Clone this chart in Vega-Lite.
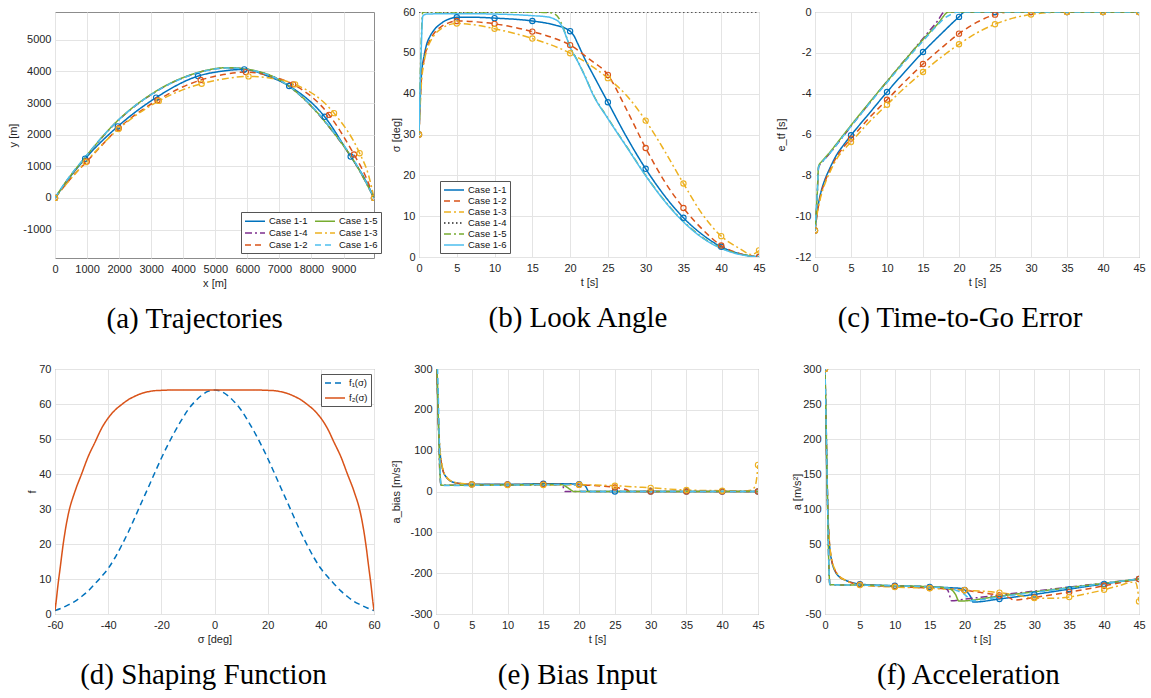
{
"$schema": "https://vega.github.io/schema/vega-lite/v6.json",
"background": "white",
"padding": {"left": 7, "top": 5, "right": 2, "bottom": 2},
"config": {
  "view": {"stroke": "#8c8c8c", "strokeWidth": 1},
  "axis": {"labelFont": "Liberation Sans", "labelFontSize": 11, "labelColor": "#262626", "titleFont": "Liberation Sans", "titleFontSize": 11, "titleFontWeight": "normal", "titleColor": "#262626", "grid": true, "gridColor": "#e4e4e4", "domain": false, "ticks": false, "labelOverlap": false, "labelFlush": false, "labelBound": false},
  "axisX": {"labelPadding": 5, "titlePadding": 3},
  "axisY": {"labelPadding": 4},
  "title": {"font": "Liberation Serif", "fontSize": 29, "fontWeight": "normal", "color": "#000000", "orient": "bottom", "offset": 17, "frame": "bounds", "anchor": "middle"},
  "legend": {"labelFont": "Liberation Sans", "labelFontSize": 9.5, "labelColor": "#111111", "strokeColor": "#555555", "fillColor": "#ffffff", "padding": 3, "rowPadding": 1, "symbolSize": 100, "symbolStrokeWidth": 1.5, "labelOffset": 13, "cornerRadius": 0}
},
"datasets": {
 "traj": [
  {"c":"Case 1-1","t":0,"x":0,"y":0},{"c":"Case 1-1","t":2.5,"x":460,"y":650},{"c":"Case 1-1","t":5,"x":940,"y":1240},{"c":"Case 1-1","t":10,"x":1960,"y":2262},{"c":"Case 1-1","t":15,"x":3154,"y":3173},{"c":"Case 1-1","t":20,"x":4461,"y":3853},{"c":"Case 1-1","t":22.5,"x":5180,"y":4005},{"c":"Case 1-1","t":25,"x":5903,"y":4063},{"c":"Case 1-1","t":27.5,"x":6620,"y":3860},{"c":"Case 1-1","t":30,"x":7303,"y":3539},{"c":"Case 1-1","t":35,"x":8413,"y":2565},{"c":"Case 1-1","t":40,"x":9222,"y":1309},{"c":"Case 1-1","t":42.5,"x":9620,"y":680},{"c":"Case 1-1","t":45,"x":9950,"y":0},
  {"c":"Case 1-2","t":0,"x":0,"y":0},{"c":"Case 1-2","t":2.5,"x":480,"y":600},{"c":"Case 1-2","t":5,"x":990,"y":1150},{"c":"Case 1-2","t":10,"x":1992,"y":2209},{"c":"Case 1-2","t":15,"x":3195,"y":3089},{"c":"Case 1-2","t":20,"x":4544,"y":3728},{"c":"Case 1-2","t":22.5,"x":5250,"y":3900},{"c":"Case 1-2","t":25,"x":5954,"y":3979},{"c":"Case 1-2","t":27.5,"x":6700,"y":3860},{"c":"Case 1-2","t":30,"x":7427,"y":3592},{"c":"Case 1-2","t":35,"x":8548,"y":2628},{"c":"Case 1-2","t":40,"x":9326,"y":1372},{"c":"Case 1-2","t":42.5,"x":9680,"y":700},{"c":"Case 1-2","t":45,"x":9950,"y":0},
  {"c":"Case 1-3","t":0,"x":0,"y":0},{"c":"Case 1-3","t":2.5,"x":470,"y":580},{"c":"Case 1-3","t":5,"x":954,"y":1131},{"c":"Case 1-3","t":10,"x":1981,"y":2178},{"c":"Case 1-3","t":15,"x":3237,"y":3068},{"c":"Case 1-3","t":20,"x":4575,"y":3613},{"c":"Case 1-3","t":22.5,"x":5300,"y":3770},{"c":"Case 1-3","t":25,"x":6037,"y":3843},{"c":"Case 1-3","t":27.5,"x":6780,"y":3780},{"c":"Case 1-3","t":30,"x":7490,"y":3592},{"c":"Case 1-3","t":35,"x":8703,"y":2681},{"c":"Case 1-3","t":40,"x":9502,"y":1414},{"c":"Case 1-3","t":42.5,"x":9780,"y":720},{"c":"Case 1-3","t":45,"x":9950,"y":0},
  {"c":"Case 1-4","x":0,"y":0},{"c":"Case 1-4","x":300,"y":440},{"c":"Case 1-4","x":955,"y":1290},{"c":"Case 1-4","x":1911,"y":2390},{"c":"Case 1-4","x":3050,"y":3300},{"c":"Case 1-4","x":4295,"y":3910},{"c":"Case 1-4","x":5400,"y":4115},{"c":"Case 1-4","x":6577,"y":3925},{"c":"Case 1-4","x":7614,"y":3270},{"c":"Case 1-4","x":8651,"y":2115},{"c":"Case 1-4","x":9378,"y":1070},{"c":"Case 1-4","x":9950,"y":0},
  {"c":"Case 1-5","x":0,"y":0},{"c":"Case 1-5","x":300,"y":450},{"c":"Case 1-5","x":955,"y":1300},{"c":"Case 1-5","x":1911,"y":2400},{"c":"Case 1-5","x":3050,"y":3310},{"c":"Case 1-5","x":4295,"y":3915},{"c":"Case 1-5","x":5400,"y":4120},{"c":"Case 1-5","x":6577,"y":3930},{"c":"Case 1-5","x":7614,"y":3275},{"c":"Case 1-5","x":8651,"y":2120},{"c":"Case 1-5","x":9378,"y":1075},{"c":"Case 1-5","x":9950,"y":0},
  {"c":"Case 1-6","x":0,"y":0},{"c":"Case 1-6","x":300,"y":460},{"c":"Case 1-6","x":955,"y":1310},{"c":"Case 1-6","x":1911,"y":2400},{"c":"Case 1-6","x":3050,"y":3300},{"c":"Case 1-6","x":4295,"y":3905},{"c":"Case 1-6","x":5400,"y":4110},{"c":"Case 1-6","x":6577,"y":3920},{"c":"Case 1-6","x":7614,"y":3285},{"c":"Case 1-6","x":8651,"y":2140},{"c":"Case 1-6","x":9378,"y":1100},{"c":"Case 1-6","x":9950,"y":0}
 ],
 "look": [
  {"c":"Case 1-1","t":0,"v":30},{"c":"Case 1-1","t":0.3,"v":44},{"c":"Case 1-1","t":0.7,"v":49.5},{"c":"Case 1-1","t":1,"v":52},{"c":"Case 1-1","t":1.5,"v":54.2},{"c":"Case 1-1","t":2,"v":55.6},{"c":"Case 1-1","t":3,"v":57.3},{"c":"Case 1-1","t":4,"v":58.3},{"c":"Case 1-1","t":5,"v":58.7},{"c":"Case 1-1","t":7.5,"v":58.7},{"c":"Case 1-1","t":10,"v":58.5},{"c":"Case 1-1","t":15,"v":57.8},{"c":"Case 1-1","t":18,"v":56.8},{"c":"Case 1-1","t":19.5,"v":55.9},{"c":"Case 1-1","t":20,"v":55.3},{"c":"Case 1-1","t":20.5,"v":54.2},{"c":"Case 1-1","t":21,"v":52.3},{"c":"Case 1-1","t":22,"v":48.3},{"c":"Case 1-1","t":23,"v":44.8},{"c":"Case 1-1","t":25,"v":37.9},{"c":"Case 1-1","t":27.5,"v":29.3},{"c":"Case 1-1","t":30,"v":21.6},{"c":"Case 1-1","t":32.5,"v":15},{"c":"Case 1-1","t":35,"v":9.6},{"c":"Case 1-1","t":37.5,"v":5.5},{"c":"Case 1-1","t":40,"v":2.5},{"c":"Case 1-1","t":42.5,"v":0.8},{"c":"Case 1-1","t":45,"v":0},
  {"c":"Case 1-2","t":0,"v":30},{"c":"Case 1-2","t":0.3,"v":43},{"c":"Case 1-2","t":0.7,"v":48.5},{"c":"Case 1-2","t":1,"v":51},{"c":"Case 1-2","t":1.5,"v":53.3},{"c":"Case 1-2","t":2,"v":54.8},{"c":"Case 1-2","t":3,"v":56.5},{"c":"Case 1-2","t":4,"v":57.4},{"c":"Case 1-2","t":5,"v":57.8},{"c":"Case 1-2","t":7.5,"v":57.6},{"c":"Case 1-2","t":10,"v":57.1},{"c":"Case 1-2","t":15,"v":55.2},{"c":"Case 1-2","t":18,"v":53.5},{"c":"Case 1-2","t":20,"v":51.9},{"c":"Case 1-2","t":22.5,"v":48.5},{"c":"Case 1-2","t":25,"v":44.6},{"c":"Case 1-2","t":27.5,"v":36},{"c":"Case 1-2","t":30,"v":26.7},{"c":"Case 1-2","t":32.5,"v":18.5},{"c":"Case 1-2","t":35,"v":12},{"c":"Case 1-2","t":37.5,"v":6.8},{"c":"Case 1-2","t":40,"v":2.8},{"c":"Case 1-2","t":42.5,"v":0.8},{"c":"Case 1-2","t":45,"v":0},
  {"c":"Case 1-3","t":0,"v":30},{"c":"Case 1-3","t":0.3,"v":42},{"c":"Case 1-3","t":0.7,"v":48},{"c":"Case 1-3","t":1,"v":50.5},{"c":"Case 1-3","t":1.5,"v":52.8},{"c":"Case 1-3","t":2,"v":54.3},{"c":"Case 1-3","t":3,"v":56},{"c":"Case 1-3","t":4,"v":56.9},{"c":"Case 1-3","t":5,"v":57.2},{"c":"Case 1-3","t":7.5,"v":56.8},{"c":"Case 1-3","t":10,"v":55.9},{"c":"Case 1-3","t":15,"v":53.5},{"c":"Case 1-3","t":20,"v":49.9},{"c":"Case 1-3","t":22.5,"v":47.2},{"c":"Case 1-3","t":25,"v":43.8},{"c":"Case 1-3","t":27.5,"v":39.5},{"c":"Case 1-3","t":30,"v":33.4},{"c":"Case 1-3","t":32.5,"v":26},{"c":"Case 1-3","t":35,"v":18},{"c":"Case 1-3","t":37.5,"v":10.5},{"c":"Case 1-3","t":40,"v":5.1},{"c":"Case 1-3","t":42.5,"v":2},{"c":"Case 1-3","t":44,"v":0.6},{"c":"Case 1-3","t":45,"v":1.6},
  {"c":"Case 1-4","t":0,"v":60},{"c":"Case 1-4","t":45,"v":60},
  {"c":"Case 1-5","t":0,"v":30},{"c":"Case 1-5","t":0.25,"v":50},{"c":"Case 1-5","t":0.5,"v":60},{"c":"Case 1-5","t":5,"v":60},{"c":"Case 1-5","t":10,"v":60},{"c":"Case 1-5","t":15,"v":60},{"c":"Case 1-5","t":17.5,"v":59.8},{"c":"Case 1-5","t":18,"v":59.5},{"c":"Case 1-5","t":18.5,"v":58.5},{"c":"Case 1-5","t":19,"v":56.5},{"c":"Case 1-5","t":19.5,"v":54},{"c":"Case 1-5","t":20,"v":51.5},{"c":"Case 1-5","t":21,"v":48},{"c":"Case 1-5","t":22,"v":44.2},{"c":"Case 1-5","t":23,"v":40},{"c":"Case 1-5","t":25,"v":34},{"c":"Case 1-5","t":27.5,"v":27},{"c":"Case 1-5","t":30,"v":20},{"c":"Case 1-5","t":32.5,"v":13.8},{"c":"Case 1-5","t":35,"v":8.7},{"c":"Case 1-5","t":37.5,"v":4.8},{"c":"Case 1-5","t":40,"v":2.2},{"c":"Case 1-5","t":42.5,"v":0.7},{"c":"Case 1-5","t":45,"v":0},
  {"c":"Case 1-6","t":0,"v":30},{"c":"Case 1-6","t":0.25,"v":48},{"c":"Case 1-6","t":0.5,"v":59},{"c":"Case 1-6","t":1,"v":59.5},{"c":"Case 1-6","t":5,"v":59.6},{"c":"Case 1-6","t":10,"v":59.5},{"c":"Case 1-6","t":15,"v":59.1},{"c":"Case 1-6","t":17,"v":58.8},{"c":"Case 1-6","t":18,"v":58.2},{"c":"Case 1-6","t":18.5,"v":57.6},{"c":"Case 1-6","t":19,"v":56.2},{"c":"Case 1-6","t":19.5,"v":53.9},{"c":"Case 1-6","t":20,"v":51.4},{"c":"Case 1-6","t":21,"v":47.9},{"c":"Case 1-6","t":22,"v":44.1},{"c":"Case 1-6","t":23,"v":39.9},{"c":"Case 1-6","t":25,"v":33.9},{"c":"Case 1-6","t":27.5,"v":26.9},{"c":"Case 1-6","t":30,"v":19.9},{"c":"Case 1-6","t":32.5,"v":13.7},{"c":"Case 1-6","t":35,"v":8.6},{"c":"Case 1-6","t":37.5,"v":4.7},{"c":"Case 1-6","t":40,"v":2.1},{"c":"Case 1-6","t":42.5,"v":0.6},{"c":"Case 1-6","t":45,"v":0}
 ],
 "err": [
  {"c":"Case 1-1","t":0,"v":-10.7},{"c":"Case 1-1","t":0.3,"v":-9.8},{"c":"Case 1-1","t":0.7,"v":-9},{"c":"Case 1-1","t":1,"v":-8.6},{"c":"Case 1-1","t":1.5,"v":-8.1},{"c":"Case 1-1","t":2,"v":-7.7},{"c":"Case 1-1","t":3,"v":-7},{"c":"Case 1-1","t":4,"v":-6.5},{"c":"Case 1-1","t":5,"v":-6.04},{"c":"Case 1-1","t":7.5,"v":-4.98},{"c":"Case 1-1","t":10,"v":-3.92},{"c":"Case 1-1","t":12.5,"v":-2.92},{"c":"Case 1-1","t":15,"v":-1.96},{"c":"Case 1-1","t":17.5,"v":-1.08},{"c":"Case 1-1","t":20,"v":-0.24},{"c":"Case 1-1","t":20.8,"v":0},{"c":"Case 1-1","t":25,"v":0},{"c":"Case 1-1","t":30,"v":0},{"c":"Case 1-1","t":35,"v":0},{"c":"Case 1-1","t":40,"v":0},{"c":"Case 1-1","t":45,"v":0},
  {"c":"Case 1-2","t":0,"v":-10.7},{"c":"Case 1-2","t":0.3,"v":-9.9},{"c":"Case 1-2","t":0.7,"v":-9.1},{"c":"Case 1-2","t":1,"v":-8.7},{"c":"Case 1-2","t":1.5,"v":-8.2},{"c":"Case 1-2","t":2,"v":-7.8},{"c":"Case 1-2","t":3,"v":-7.1},{"c":"Case 1-2","t":4,"v":-6.6},{"c":"Case 1-2","t":5,"v":-6.2},{"c":"Case 1-2","t":7.5,"v":-5.2},{"c":"Case 1-2","t":10,"v":-4.3},{"c":"Case 1-2","t":12.5,"v":-3.4},{"c":"Case 1-2","t":15,"v":-2.55},{"c":"Case 1-2","t":17.5,"v":-1.78},{"c":"Case 1-2","t":20,"v":-1.06},{"c":"Case 1-2","t":22.5,"v":-0.5},{"c":"Case 1-2","t":25,"v":-0.13},{"c":"Case 1-2","t":27,"v":0},{"c":"Case 1-2","t":30,"v":0},{"c":"Case 1-2","t":35,"v":0},{"c":"Case 1-2","t":40,"v":0},{"c":"Case 1-2","t":45,"v":0},
  {"c":"Case 1-3","t":0,"v":-10.7},{"c":"Case 1-3","t":0.3,"v":-9.9},{"c":"Case 1-3","t":0.7,"v":-9.2},{"c":"Case 1-3","t":1,"v":-8.8},{"c":"Case 1-3","t":1.5,"v":-8.3},{"c":"Case 1-3","t":2,"v":-7.9},{"c":"Case 1-3","t":3,"v":-7.2},{"c":"Case 1-3","t":4,"v":-6.75},{"c":"Case 1-3","t":5,"v":-6.37},{"c":"Case 1-3","t":7.5,"v":-5.4},{"c":"Case 1-3","t":10,"v":-4.54},{"c":"Case 1-3","t":12.5,"v":-3.7},{"c":"Case 1-3","t":15,"v":-2.94},{"c":"Case 1-3","t":17.5,"v":-2.22},{"c":"Case 1-3","t":20,"v":-1.58},{"c":"Case 1-3","t":22.5,"v":-1.02},{"c":"Case 1-3","t":25,"v":-0.6},{"c":"Case 1-3","t":27.5,"v":-0.3},{"c":"Case 1-3","t":30,"v":-0.12},{"c":"Case 1-3","t":32.5,"v":-0.03},{"c":"Case 1-3","t":35,"v":0},{"c":"Case 1-3","t":40,"v":0},{"c":"Case 1-3","t":45,"v":0},
  {"c":"Case 1-4","t":0,"v":-10.7},{"c":"Case 1-4","t":0.3,"v":-9},{"c":"Case 1-4","t":0.5,"v":-7.6},{"c":"Case 1-4","t":1,"v":-7.35},{"c":"Case 1-4","t":2,"v":-6.95},{"c":"Case 1-4","t":3,"v":-6.5},{"c":"Case 1-4","t":5,"v":-5.6},{"c":"Case 1-4","t":10,"v":-3.4},{"c":"Case 1-4","t":15,"v":-1.3},{"c":"Case 1-4","t":17,"v":-0.45},{"c":"Case 1-4","t":18,"v":0},{"c":"Case 1-4","t":45,"v":0},
  {"c":"Case 1-5","t":0,"v":-10.7},{"c":"Case 1-5","t":0.3,"v":-9},{"c":"Case 1-5","t":0.5,"v":-7.55},{"c":"Case 1-5","t":1,"v":-7.3},{"c":"Case 1-5","t":2,"v":-6.9},{"c":"Case 1-5","t":3,"v":-6.45},{"c":"Case 1-5","t":5,"v":-5.55},{"c":"Case 1-5","t":10,"v":-3.4},{"c":"Case 1-5","t":15,"v":-1.35},{"c":"Case 1-5","t":17,"v":-0.6},{"c":"Case 1-5","t":18.6,"v":0},{"c":"Case 1-5","t":45,"v":0},
  {"c":"Case 1-6","t":0,"v":-10.7},{"c":"Case 1-6","t":0.3,"v":-9},{"c":"Case 1-6","t":0.5,"v":-7.6},{"c":"Case 1-6","t":1,"v":-7.35},{"c":"Case 1-6","t":2,"v":-6.95},{"c":"Case 1-6","t":3,"v":-6.5},{"c":"Case 1-6","t":5,"v":-5.6},{"c":"Case 1-6","t":10,"v":-3.45},{"c":"Case 1-6","t":15,"v":-1.42},{"c":"Case 1-6","t":17,"v":-0.65},{"c":"Case 1-6","t":18,"v":-0.3},{"c":"Case 1-6","t":19,"v":-0.1},{"c":"Case 1-6","t":19.8,"v":0},{"c":"Case 1-6","t":45,"v":0}
 ],
 "shape": [
  {"c":"f₁(σ)","s":-60,"v":1},{"c":"f₁(σ)","s":-57.5,"v":1.7},{"c":"f₁(σ)","s":-55,"v":2.6},{"c":"f₁(σ)","s":-52.5,"v":3.6},{"c":"f₁(σ)","s":-50,"v":5},{"c":"f₁(σ)","s":-47.5,"v":6.6},{"c":"f₁(σ)","s":-45,"v":8.6},{"c":"f₁(σ)","s":-42.5,"v":10.7},{"c":"f₁(σ)","s":-40,"v":13},{"c":"f₁(σ)","s":-37.5,"v":16},{"c":"f₁(σ)","s":-35,"v":19.5},{"c":"f₁(σ)","s":-32.5,"v":23.3},{"c":"f₁(σ)","s":-30,"v":27.5},{"c":"f₁(σ)","s":-27.5,"v":31.8},{"c":"f₁(σ)","s":-25,"v":36},{"c":"f₁(σ)","s":-22.5,"v":40.3},{"c":"f₁(σ)","s":-20,"v":44.5},{"c":"f₁(σ)","s":-17.5,"v":48.4},{"c":"f₁(σ)","s":-15,"v":52},{"c":"f₁(σ)","s":-12.5,"v":55.3},{"c":"f₁(σ)","s":-10,"v":58.3},{"c":"f₁(σ)","s":-7.5,"v":60.6},{"c":"f₁(σ)","s":-5,"v":62.4},{"c":"f₁(σ)","s":-2.5,"v":63.6},{"c":"f₁(σ)","s":0,"v":64},{"c":"f₁(σ)","s":2.5,"v":63.6},{"c":"f₁(σ)","s":5,"v":62.4},{"c":"f₁(σ)","s":7.5,"v":60.6},{"c":"f₁(σ)","s":10,"v":58.3},{"c":"f₁(σ)","s":12.5,"v":55.3},{"c":"f₁(σ)","s":15,"v":52},{"c":"f₁(σ)","s":17.5,"v":48.4},{"c":"f₁(σ)","s":20,"v":44.5},{"c":"f₁(σ)","s":22.5,"v":40.3},{"c":"f₁(σ)","s":25,"v":36},{"c":"f₁(σ)","s":27.5,"v":31.8},{"c":"f₁(σ)","s":30,"v":27.5},{"c":"f₁(σ)","s":32.5,"v":23.3},{"c":"f₁(σ)","s":35,"v":19.5},{"c":"f₁(σ)","s":37.5,"v":16},{"c":"f₁(σ)","s":40,"v":13},{"c":"f₁(σ)","s":42.5,"v":10.7},{"c":"f₁(σ)","s":45,"v":8.6},{"c":"f₁(σ)","s":47.5,"v":6.6},{"c":"f₁(σ)","s":50,"v":5},{"c":"f₁(σ)","s":52.5,"v":3.6},{"c":"f₁(σ)","s":55,"v":2.6},{"c":"f₁(σ)","s":57.5,"v":1.7},{"c":"f₁(σ)","s":60,"v":1},
  {"c":"f₂(σ)","s":-60,"v":1},{"c":"f₂(σ)","s":-59.5,"v":4},{"c":"f₂(σ)","s":-59,"v":7.5},{"c":"f₂(σ)","s":-58,"v":13.5},{"c":"f₂(σ)","s":-57,"v":19.5},{"c":"f₂(σ)","s":-56,"v":24.5},{"c":"f₂(σ)","s":-55,"v":28.5},{"c":"f₂(σ)","s":-52.5,"v":35},{"c":"f₂(σ)","s":-50,"v":40},{"c":"f₂(σ)","s":-47.5,"v":45},{"c":"f₂(σ)","s":-45,"v":49},{"c":"f₂(σ)","s":-42.5,"v":53},{"c":"f₂(σ)","s":-40,"v":56},{"c":"f₂(σ)","s":-37.5,"v":58.2},{"c":"f₂(σ)","s":-35,"v":59.8},{"c":"f₂(σ)","s":-32.5,"v":61.2},{"c":"f₂(σ)","s":-30,"v":62.2},{"c":"f₂(σ)","s":-27.5,"v":63},{"c":"f₂(σ)","s":-25,"v":63.5},{"c":"f₂(σ)","s":-22.5,"v":63.8},{"c":"f₂(σ)","s":-20,"v":63.9},{"c":"f₂(σ)","s":-15,"v":64},{"c":"f₂(σ)","s":-10,"v":64},{"c":"f₂(σ)","s":0,"v":64},{"c":"f₂(σ)","s":10,"v":64},{"c":"f₂(σ)","s":15,"v":64},{"c":"f₂(σ)","s":20,"v":63.9},{"c":"f₂(σ)","s":22.5,"v":63.8},{"c":"f₂(σ)","s":25,"v":63.5},{"c":"f₂(σ)","s":27.5,"v":63},{"c":"f₂(σ)","s":30,"v":62.2},{"c":"f₂(σ)","s":32.5,"v":61.2},{"c":"f₂(σ)","s":35,"v":59.8},{"c":"f₂(σ)","s":37.5,"v":58.2},{"c":"f₂(σ)","s":40,"v":56},{"c":"f₂(σ)","s":42.5,"v":53},{"c":"f₂(σ)","s":45,"v":49},{"c":"f₂(σ)","s":47.5,"v":45},{"c":"f₂(σ)","s":50,"v":40},{"c":"f₂(σ)","s":52.5,"v":35},{"c":"f₂(σ)","s":55,"v":28.5},{"c":"f₂(σ)","s":56,"v":24.5},{"c":"f₂(σ)","s":57,"v":19.5},{"c":"f₂(σ)","s":58,"v":13.5},{"c":"f₂(σ)","s":59,"v":7.5},{"c":"f₂(σ)","s":59.5,"v":4},{"c":"f₂(σ)","s":60,"v":1}
 ],
 "bias": [
  {"c":"Case 1-1","t":0,"v":400},{"c":"Case 1-1","t":0.2,"v":250},{"c":"Case 1-1","t":0.4,"v":140},{"c":"Case 1-1","t":0.6,"v":90},{"c":"Case 1-1","t":0.8,"v":65},{"c":"Case 1-1","t":1,"v":50},{"c":"Case 1-1","t":1.5,"v":34},{"c":"Case 1-1","t":2,"v":26},{"c":"Case 1-1","t":3,"v":20.5},{"c":"Case 1-1","t":4,"v":18.5},{"c":"Case 1-1","t":5,"v":17.5},{"c":"Case 1-1","t":10,"v":17.5},{"c":"Case 1-1","t":15,"v":19},{"c":"Case 1-1","t":17.5,"v":19},{"c":"Case 1-1","t":20,"v":18},{"c":"Case 1-1","t":20.7,"v":16},{"c":"Case 1-1","t":21,"v":10},{"c":"Case 1-1","t":21.2,"v":3},{"c":"Case 1-1","t":21.3,"v":0},{"c":"Case 1-1","t":25,"v":0},{"c":"Case 1-1","t":30,"v":0},{"c":"Case 1-1","t":35,"v":0},{"c":"Case 1-1","t":40,"v":0},{"c":"Case 1-1","t":45,"v":0},
  {"c":"Case 1-2","t":0,"v":400},{"c":"Case 1-2","t":0.2,"v":250},{"c":"Case 1-2","t":0.4,"v":140},{"c":"Case 1-2","t":0.6,"v":90},{"c":"Case 1-2","t":0.8,"v":65},{"c":"Case 1-2","t":1,"v":50},{"c":"Case 1-2","t":1.5,"v":34},{"c":"Case 1-2","t":2,"v":26},{"c":"Case 1-2","t":3,"v":20.5},{"c":"Case 1-2","t":4,"v":18.5},{"c":"Case 1-2","t":5,"v":17.5},{"c":"Case 1-2","t":10,"v":17},{"c":"Case 1-2","t":15,"v":17.5},{"c":"Case 1-2","t":20,"v":16.5},{"c":"Case 1-2","t":22.5,"v":14},{"c":"Case 1-2","t":25,"v":10},{"c":"Case 1-2","t":26,"v":7},{"c":"Case 1-2","t":26.8,"v":3},{"c":"Case 1-2","t":27,"v":0},{"c":"Case 1-2","t":30,"v":0},{"c":"Case 1-2","t":35,"v":0},{"c":"Case 1-2","t":40,"v":0},{"c":"Case 1-2","t":45,"v":0},
  {"c":"Case 1-3","t":0,"v":400},{"c":"Case 1-3","t":0.2,"v":260},{"c":"Case 1-3","t":0.4,"v":150},{"c":"Case 1-3","t":0.6,"v":95},{"c":"Case 1-3","t":0.8,"v":68},{"c":"Case 1-3","t":1,"v":52},{"c":"Case 1-3","t":1.5,"v":35},{"c":"Case 1-3","t":2,"v":27},{"c":"Case 1-3","t":3,"v":21},{"c":"Case 1-3","t":4,"v":19},{"c":"Case 1-3","t":5,"v":17},{"c":"Case 1-3","t":10,"v":16},{"c":"Case 1-3","t":15,"v":16},{"c":"Case 1-3","t":20,"v":16.5},{"c":"Case 1-3","t":25,"v":14},{"c":"Case 1-3","t":30,"v":9},{"c":"Case 1-3","t":35,"v":3.5},{"c":"Case 1-3","t":40,"v":2},{"c":"Case 1-3","t":43,"v":1.5},{"c":"Case 1-3","t":44,"v":3},{"c":"Case 1-3","t":44.5,"v":10},{"c":"Case 1-3","t":44.8,"v":30},{"c":"Case 1-3","t":45,"v":65},
  {"c":"Case 1-4","t":0,"v":400},{"c":"Case 1-4","t":0.3,"v":200},{"c":"Case 1-4","t":0.5,"v":60},{"c":"Case 1-4","t":0.7,"v":16},{"c":"Case 1-4","t":1,"v":15},{"c":"Case 1-4","t":5,"v":15.5},{"c":"Case 1-4","t":10,"v":16},{"c":"Case 1-4","t":15,"v":17},{"c":"Case 1-4","t":17.5,"v":17.5},{"c":"Case 1-4","t":17.8,"v":10},{"c":"Case 1-4","t":17.9,"v":3},{"c":"Case 1-4","t":18,"v":0},{"c":"Case 1-4","t":45,"v":0},
  {"c":"Case 1-5","t":0,"v":400},{"c":"Case 1-5","t":0.3,"v":200},{"c":"Case 1-5","t":0.5,"v":70},{"c":"Case 1-5","t":0.7,"v":16},{"c":"Case 1-5","t":1,"v":15},{"c":"Case 1-5","t":5,"v":15.5},{"c":"Case 1-5","t":10,"v":16},{"c":"Case 1-5","t":15,"v":17},{"c":"Case 1-5","t":17.5,"v":17},{"c":"Case 1-5","t":18,"v":14},{"c":"Case 1-5","t":18.5,"v":8},{"c":"Case 1-5","t":19,"v":2},{"c":"Case 1-5","t":19.2,"v":0},{"c":"Case 1-5","t":45,"v":0},
  {"c":"Case 1-6","t":0,"v":400},{"c":"Case 1-6","t":0.3,"v":250},{"c":"Case 1-6","t":0.5,"v":100},{"c":"Case 1-6","t":0.7,"v":15},{"c":"Case 1-6","t":1,"v":14.5},{"c":"Case 1-6","t":5,"v":15},{"c":"Case 1-6","t":10,"v":15.5},{"c":"Case 1-6","t":15,"v":16.5},{"c":"Case 1-6","t":19,"v":17},{"c":"Case 1-6","t":19.8,"v":15},{"c":"Case 1-6","t":20.1,"v":8},{"c":"Case 1-6","t":20.3,"v":0},{"c":"Case 1-6","t":45,"v":0}
 ],
 "acc": [
  {"c":"Case 1-1","t":0,"v":300},{"c":"Case 1-1","t":0.2,"v":180},{"c":"Case 1-1","t":0.4,"v":95},{"c":"Case 1-1","t":0.6,"v":55},{"c":"Case 1-1","t":0.8,"v":35},{"c":"Case 1-1","t":1,"v":24},{"c":"Case 1-1","t":1.5,"v":10},{"c":"Case 1-1","t":2,"v":3.5},{"c":"Case 1-1","t":3,"v":-2},{"c":"Case 1-1","t":4,"v":-5.5},{"c":"Case 1-1","t":5,"v":-7.3},{"c":"Case 1-1","t":10,"v":-9.7},{"c":"Case 1-1","t":15,"v":-11.3},{"c":"Case 1-1","t":18,"v":-12.5},{"c":"Case 1-1","t":19.5,"v":-13.5},{"c":"Case 1-1","t":20,"v":-15.5},{"c":"Case 1-1","t":20.5,"v":-20},{"c":"Case 1-1","t":21,"v":-28},{"c":"Case 1-1","t":21.2,"v":-33},{"c":"Case 1-1","t":25,"v":-28.5},{"c":"Case 1-1","t":30,"v":-22},{"c":"Case 1-1","t":35,"v":-14.5},{"c":"Case 1-1","t":40,"v":-7},{"c":"Case 1-1","t":45,"v":0},
  {"c":"Case 1-2","t":0,"v":300},{"c":"Case 1-2","t":0.2,"v":185},{"c":"Case 1-2","t":0.4,"v":98},{"c":"Case 1-2","t":0.6,"v":57},{"c":"Case 1-2","t":0.8,"v":36},{"c":"Case 1-2","t":1,"v":25},{"c":"Case 1-2","t":1.5,"v":11},{"c":"Case 1-2","t":2,"v":4},{"c":"Case 1-2","t":3,"v":-2},{"c":"Case 1-2","t":4,"v":-6},{"c":"Case 1-2","t":5,"v":-8},{"c":"Case 1-2","t":10,"v":-10.8},{"c":"Case 1-2","t":15,"v":-12.8},{"c":"Case 1-2","t":20,"v":-16},{"c":"Case 1-2","t":22.5,"v":-19.5},{"c":"Case 1-2","t":25,"v":-23.5},{"c":"Case 1-2","t":26.5,"v":-27},{"c":"Case 1-2","t":27,"v":-30},{"c":"Case 1-2","t":30,"v":-26.3},{"c":"Case 1-2","t":35,"v":-18.7},{"c":"Case 1-2","t":40,"v":-9.7},{"c":"Case 1-2","t":45,"v":0},
  {"c":"Case 1-3","t":0,"v":300},{"c":"Case 1-3","t":0.2,"v":190},{"c":"Case 1-3","t":0.4,"v":100},{"c":"Case 1-3","t":0.6,"v":58},{"c":"Case 1-3","t":0.8,"v":37},{"c":"Case 1-3","t":1,"v":26},{"c":"Case 1-3","t":1.5,"v":12},{"c":"Case 1-3","t":2,"v":4.5},{"c":"Case 1-3","t":3,"v":-2},{"c":"Case 1-3","t":4,"v":-6.5},{"c":"Case 1-3","t":5,"v":-8.7},{"c":"Case 1-3","t":10,"v":-11.5},{"c":"Case 1-3","t":15,"v":-13.2},{"c":"Case 1-3","t":20,"v":-16},{"c":"Case 1-3","t":25,"v":-19.5},{"c":"Case 1-3","t":27.5,"v":-23},{"c":"Case 1-3","t":30,"v":-27.3},{"c":"Case 1-3","t":32.5,"v":-27.5},{"c":"Case 1-3","t":35,"v":-25.8},{"c":"Case 1-3","t":37.5,"v":-21},{"c":"Case 1-3","t":40,"v":-15.4},{"c":"Case 1-3","t":42.5,"v":-8.5},{"c":"Case 1-3","t":44,"v":-4.5},{"c":"Case 1-3","t":44.5,"v":-5},{"c":"Case 1-3","t":44.8,"v":-15},{"c":"Case 1-3","t":45,"v":-32},
  {"c":"Case 1-4","t":0,"v":300},{"c":"Case 1-4","t":0.3,"v":150},{"c":"Case 1-4","t":0.5,"v":40},{"c":"Case 1-4","t":0.7,"v":-8},{"c":"Case 1-4","t":1,"v":-8.3},{"c":"Case 1-4","t":5,"v":-8.8},{"c":"Case 1-4","t":10,"v":-9.8},{"c":"Case 1-4","t":15,"v":-11},{"c":"Case 1-4","t":17,"v":-12.5},{"c":"Case 1-4","t":17.6,"v":-16},{"c":"Case 1-4","t":17.9,"v":-25},{"c":"Case 1-4","t":18.1,"v":-31},{"c":"Case 1-4","t":20,"v":-28.8},{"c":"Case 1-4","t":25,"v":-23},{"c":"Case 1-4","t":30,"v":-17.3},{"c":"Case 1-4","t":35,"v":-11.5},{"c":"Case 1-4","t":40,"v":-5.8},{"c":"Case 1-4","t":45,"v":0},
  {"c":"Case 1-5","t":0,"v":300},{"c":"Case 1-5","t":0.3,"v":150},{"c":"Case 1-5","t":0.5,"v":40},{"c":"Case 1-5","t":0.7,"v":-8},{"c":"Case 1-5","t":1,"v":-8.2},{"c":"Case 1-5","t":5,"v":-8.7},{"c":"Case 1-5","t":10,"v":-9.7},{"c":"Case 1-5","t":15,"v":-11},{"c":"Case 1-5","t":17,"v":-12.3},{"c":"Case 1-5","t":18,"v":-14.5},{"c":"Case 1-5","t":18.7,"v":-22},{"c":"Case 1-5","t":19.2,"v":-31.5},{"c":"Case 1-5","t":25,"v":-24.5},{"c":"Case 1-5","t":30,"v":-18.3},{"c":"Case 1-5","t":35,"v":-12.3},{"c":"Case 1-5","t":40,"v":-6.1},{"c":"Case 1-5","t":45,"v":0},
  {"c":"Case 1-6","t":0,"v":300},{"c":"Case 1-6","t":0.3,"v":150},{"c":"Case 1-6","t":0.5,"v":40},{"c":"Case 1-6","t":0.7,"v":-8},{"c":"Case 1-6","t":1,"v":-8.2},{"c":"Case 1-6","t":5,"v":-8.7},{"c":"Case 1-6","t":10,"v":-9.8},{"c":"Case 1-6","t":15,"v":-11.3},{"c":"Case 1-6","t":18,"v":-13.5},{"c":"Case 1-6","t":19,"v":-17},{"c":"Case 1-6","t":20,"v":-22},{"c":"Case 1-6","t":20.5,"v":-27},{"c":"Case 1-6","t":20.8,"v":-31},{"c":"Case 1-6","t":25,"v":-25.5},{"c":"Case 1-6","t":30,"v":-19},{"c":"Case 1-6","t":35,"v":-12.8},{"c":"Case 1-6","t":40,"v":-6.3},{"c":"Case 1-6","t":45,"v":0}
 ]
},
"resolve": {"scale": {"x": "independent", "y": "independent", "color": "independent", "strokeDash": "independent", "stroke": "independent"}, "legend": {"color": "independent", "strokeDash": "independent", "stroke": "independent"}},
"columns": 3,
"align": "none",
"bounds": "full",
"spacing": {"row": 27, "column": 8},
"concat": [
  {"width": 319, "height": 246, "title": {"text": "(a) Trajectories"}, "data": {"name": "traj"},
   "layer": [
    {"mark": {"type": "line", "interpolate": "monotone", "strokeWidth": 1.5, "clip": true},
     "encoding": {
      "x": {"field": "x", "type": "quantitative", "scale": {"domain": [0, 9950], "nice": false, "zero": false}, "axis": {"title": "x [m]", "values": [0,1000,2000,3000,4000,5000,6000,7000,8000,9000], "tickCount": 30, "format": "d", "labelOverlap": false}},
      "y": {"field": "y", "type": "quantitative", "scale": {"domain": [-1900, 5880], "nice": false, "zero": false}, "axis": {"title": "y [m]", "values": [-1000,0,1000,2000,3000,4000,5000], "tickCount": 30, "format": "d", "labelExpr": "replace(datum.label, '\u2212', '-')", "titlePadding": 4, "labelOverlap": false}},
      "color": {"field": "c", "type": "nominal", "scale": {"domain": ["Case 1-1","Case 1-4","Case 1-2","Case 1-5","Case 1-3","Case 1-6"], "range": ["#0072BD","#7E2F8E","#D95319","#77AC30","#EDB120","#4DBEEE"]}, "legend": {"title": null, "orient": "none", "legendX": 186, "legendY": 200, "columns": 2, "columnPadding": 4, "symbolType": "M-1,0L3,0"}},
      "strokeDash": {"field": "c", "type": "nominal", "scale": {"domain": ["Case 1-1","Case 1-4","Case 1-2","Case 1-5","Case 1-3","Case 1-6"], "range": [[1,0],[7,3,2,3],[6,4],[1,0],[7,3,2,3],[6,4]]}, "legend": {"title": null, "orient": "none", "legendX": 186, "legendY": 200, "columns": 2, "columnPadding": 4, "symbolType": "M-1,0L3,0"}}
     }},
    {"transform": [{"filter": "datum.t % 5 == 0 && (datum.c == 'Case 1-1' || datum.c == 'Case 1-2' || datum.c == 'Case 1-3')"}],
     "mark": {"type": "point", "filled": false, "size": 28, "strokeWidth": 1.1, "opacity": 1, "clip": true},
     "encoding": {"x": {"field": "x", "type": "quantitative"}, "y": {"field": "y", "type": "quantitative"}, "stroke": {"field": "c", "type": "nominal", "scale": {"domain": ["Case 1-1","Case 1-2","Case 1-3"], "range": ["#0072BD","#D95319","#EDB120"]}, "legend": null}}}
   ]},
  {"width": 340, "height": 245, "title": {"text": "(b) Look Angle"}, "data": {"name": "look"},
   "layer": [
    {"mark": {"type": "line", "interpolate": "monotone", "strokeWidth": 1.5, "clip": true},
     "encoding": {
      "x": {"field": "t", "type": "quantitative", "scale": {"domain": [0, 45], "nice": false, "zero": false}, "axis": {"title": "t [s]", "values": [0,5,10,15,20,25,30,35,40,45], "tickCount": 30, "labelOverlap": false}},
      "y": {"field": "v", "type": "quantitative", "scale": {"domain": [0, 60], "nice": false, "zero": false}, "axis": {"title": "σ [deg]", "values": [0,10,20,30,40,50,60], "tickCount": 30, "titlePadding": 1, "labelOverlap": false}},
      "color": {"field": "c", "type": "nominal", "scale": {"domain": ["Case 1-1","Case 1-2","Case 1-3","Case 1-4","Case 1-5","Case 1-6"], "range": ["#0072BD","#D95319","#EDB120","#262626","#77AC30","#4DBEEE"]}, "legend": {"title": null, "orient": "none", "legendX": 21, "legendY": 169, "rowPadding": 0, "symbolType": "M-1,0L3,0"}},
      "strokeDash": {"field": "c", "type": "nominal", "scale": {"domain": ["Case 1-1","Case 1-2","Case 1-3","Case 1-4","Case 1-5","Case 1-6"], "range": [[1,0],[6,4],[7,3,2,3],[1.5,2.5],[7,3,2,3],[1,0]]}, "legend": {"title": null, "orient": "none", "legendX": 21, "legendY": 169, "rowPadding": 0, "symbolType": "M-1,0L3,0"}}
     }},
    {"transform": [{"filter": "datum.t % 5 == 0 && (datum.c == 'Case 1-1' || datum.c == 'Case 1-2' || datum.c == 'Case 1-3')"}],
     "mark": {"type": "point", "filled": false, "size": 28, "strokeWidth": 1.1, "opacity": 1, "clip": true},
     "encoding": {"x": {"field": "t", "type": "quantitative"}, "y": {"field": "v", "type": "quantitative"}, "stroke": {"field": "c", "type": "nominal", "scale": {"domain": ["Case 1-1","Case 1-2","Case 1-3"], "range": ["#0072BD","#D95319","#EDB120"]}, "legend": null}}}
   ]},
  {"width": 324, "height": 245, "title": {"text": "(c) Time-to-Go Error"}, "data": {"name": "err"},
   "layer": [
    {"mark": {"type": "line", "interpolate": "monotone", "strokeWidth": 1.5, "clip": true},
     "encoding": {
      "x": {"field": "t", "type": "quantitative", "scale": {"domain": [0, 45], "nice": false, "zero": false}, "axis": {"title": "t [s]", "values": [0,5,10,15,20,25,30,35,40,45], "tickCount": 30, "labelOverlap": false}},
      "y": {"field": "v", "type": "quantitative", "scale": {"domain": [-12, 0], "nice": false, "zero": false}, "axis": {"title": "e_tf [s]", "values": [-12,-10,-8,-6,-4,-2,0], "tickCount": 30, "format": "d", "labelExpr": "replace(datum.label, '\u2212', '-')", "titlePadding": 9, "labelOverlap": false}},
      "color": {"field": "c", "type": "nominal", "scale": {"domain": ["Case 1-1","Case 1-2","Case 1-3","Case 1-4","Case 1-5","Case 1-6"], "range": ["#0072BD","#D95319","#EDB120","#7E2F8E","#77AC30","#4DBEEE"]}, "legend": null},
      "strokeDash": {"field": "c", "type": "nominal", "scale": {"domain": ["Case 1-1","Case 1-2","Case 1-3","Case 1-4","Case 1-5","Case 1-6"], "range": [[1,0],[6,4],[7,3,2,3],[7,3,2,3],[1,0],[6,4]]}, "legend": null}
     }},
    {"transform": [{"filter": "datum.t % 5 == 0 && (datum.c == 'Case 1-1' || datum.c == 'Case 1-2' || datum.c == 'Case 1-3')"}],
     "mark": {"type": "point", "filled": false, "size": 28, "strokeWidth": 1.1, "opacity": 1, "clip": true},
     "encoding": {"x": {"field": "t", "type": "quantitative"}, "y": {"field": "v", "type": "quantitative"}, "stroke": {"field": "c", "type": "nominal", "scale": {"domain": ["Case 1-1","Case 1-2","Case 1-3"], "range": ["#0072BD","#D95319","#EDB120"]}, "legend": null}}}
   ]},
  {"width": 319, "height": 245, "title": {"text": "(d) Shaping Function"}, "data": {"name": "shape"},
   "mark": {"type": "line", "interpolate": "monotone", "strokeWidth": 1.5, "clip": true},
   "encoding": {
    "x": {"field": "s", "type": "quantitative", "scale": {"domain": [-60, 60], "nice": false, "zero": false}, "axis": {"title": "σ [deg]", "values": [-60,-40,-20,0,20,40,60], "tickCount": 30, "format": "d", "labelExpr": "replace(datum.label, '\u2212', '-')", "labelOverlap": false}},
    "y": {"field": "v", "type": "quantitative", "scale": {"domain": [0, 70], "nice": false, "zero": false}, "axis": {"title": "f", "values": [0,10,20,30,40,50,60,70], "tickCount": 30, "titlePadding": 1, "labelOverlap": false}},
    "color": {"field": "c", "type": "nominal", "scale": {"domain": ["f₁(σ)","f₂(σ)"], "range": ["#0072BD","#D95319"]}, "legend": {"title": null, "orient": "none", "legendX": 266, "legendY": 5, "rowPadding": 4, "symbolType": "M-1,0L3,0"}},
    "strokeDash": {"field": "c", "type": "nominal", "scale": {"domain": ["f₁(σ)","f₂(σ)"], "range": [[6,4],[1,0]]}, "legend": {"title": null, "orient": "none", "legendX": 266, "legendY": 5, "rowPadding": 4, "symbolType": "M-1,0L3,0"}}
   }},
  {"width": 322, "height": 245, "title": {"text": "(e) Bias Input"}, "data": {"name": "bias"},
   "layer": [
    {"mark": {"type": "line", "interpolate": "monotone", "strokeWidth": 1.5, "clip": true},
     "encoding": {
      "x": {"field": "t", "type": "quantitative", "scale": {"domain": [0, 45], "nice": false, "zero": false}, "axis": {"title": "t [s]", "values": [0,5,10,15,20,25,30,35,40,45], "tickCount": 30, "labelOverlap": false}},
      "y": {"field": "v", "type": "quantitative", "scale": {"domain": [-300, 300], "nice": false, "zero": false}, "axis": {"title": "a_bias [m/s²]", "values": [-300,-200,-100,0,100,200,300], "tickCount": 30, "format": "d", "labelExpr": "replace(datum.label, '\u2212', '-')", "titlePadding": 8, "labelOverlap": false}},
      "color": {"field": "c", "type": "nominal", "scale": {"domain": ["Case 1-1","Case 1-2","Case 1-3","Case 1-4","Case 1-5","Case 1-6"], "range": ["#0072BD","#D95319","#EDB120","#7E2F8E","#77AC30","#4DBEEE"]}, "legend": null},
      "strokeDash": {"field": "c", "type": "nominal", "scale": {"domain": ["Case 1-1","Case 1-2","Case 1-3","Case 1-4","Case 1-5","Case 1-6"], "range": [[1,0],[6,4],[7,3,2,3],[7,3,2,3],[1,0],[6,4]]}, "legend": null}
     }},
    {"transform": [{"filter": "datum.t % 5 == 0 && (datum.c == 'Case 1-1' || datum.c == 'Case 1-2' || datum.c == 'Case 1-3')"}],
     "mark": {"type": "point", "filled": false, "size": 28, "strokeWidth": 1.1, "opacity": 1, "clip": true},
     "encoding": {"x": {"field": "t", "type": "quantitative"}, "y": {"field": "v", "type": "quantitative"}, "stroke": {"field": "c", "type": "nominal", "scale": {"domain": ["Case 1-1","Case 1-2","Case 1-3"], "range": ["#0072BD","#D95319","#EDB120"]}, "legend": null}}}
   ]},
  {"width": 314, "height": 245, "title": {"text": "(f) Acceleration"}, "data": {"name": "acc"},
   "layer": [
    {"mark": {"type": "line", "interpolate": "monotone", "strokeWidth": 1.5, "clip": true},
     "encoding": {
      "x": {"field": "t", "type": "quantitative", "scale": {"domain": [0, 45], "nice": false, "zero": false}, "axis": {"title": "t [s]", "values": [0,5,10,15,20,25,30,35,40,45], "tickCount": 30, "labelOverlap": false}},
      "y": {"field": "v", "type": "quantitative", "scale": {"domain": [-50, 300], "nice": false, "zero": false}, "axis": {"title": "a [m/s²]", "values": [-50,0,50,100,150,200,250,300], "tickCount": 30, "format": "d", "labelExpr": "replace(datum.label, '\u2212', '-')", "titlePadding": 0, "labelOverlap": false}},
      "color": {"field": "c", "type": "nominal", "scale": {"domain": ["Case 1-1","Case 1-2","Case 1-3","Case 1-4","Case 1-5","Case 1-6"], "range": ["#0072BD","#D95319","#EDB120","#7E2F8E","#77AC30","#4DBEEE"]}, "legend": null},
      "strokeDash": {"field": "c", "type": "nominal", "scale": {"domain": ["Case 1-1","Case 1-2","Case 1-3","Case 1-4","Case 1-5","Case 1-6"], "range": [[1,0],[6,4],[7,3,2,3],[7,3,2,3],[1,0],[6,4]]}, "legend": null}
     }},
    {"transform": [{"filter": "datum.t % 5 == 0 && (datum.c == 'Case 1-1' || datum.c == 'Case 1-2' || datum.c == 'Case 1-3')"}],
     "mark": {"type": "point", "filled": false, "size": 28, "strokeWidth": 1.1, "opacity": 1, "clip": true},
     "encoding": {"x": {"field": "t", "type": "quantitative"}, "y": {"field": "v", "type": "quantitative"}, "stroke": {"field": "c", "type": "nominal", "scale": {"domain": ["Case 1-1","Case 1-2","Case 1-3"], "range": ["#0072BD","#D95319","#EDB120"]}, "legend": null}}}
   ]}
]
}
